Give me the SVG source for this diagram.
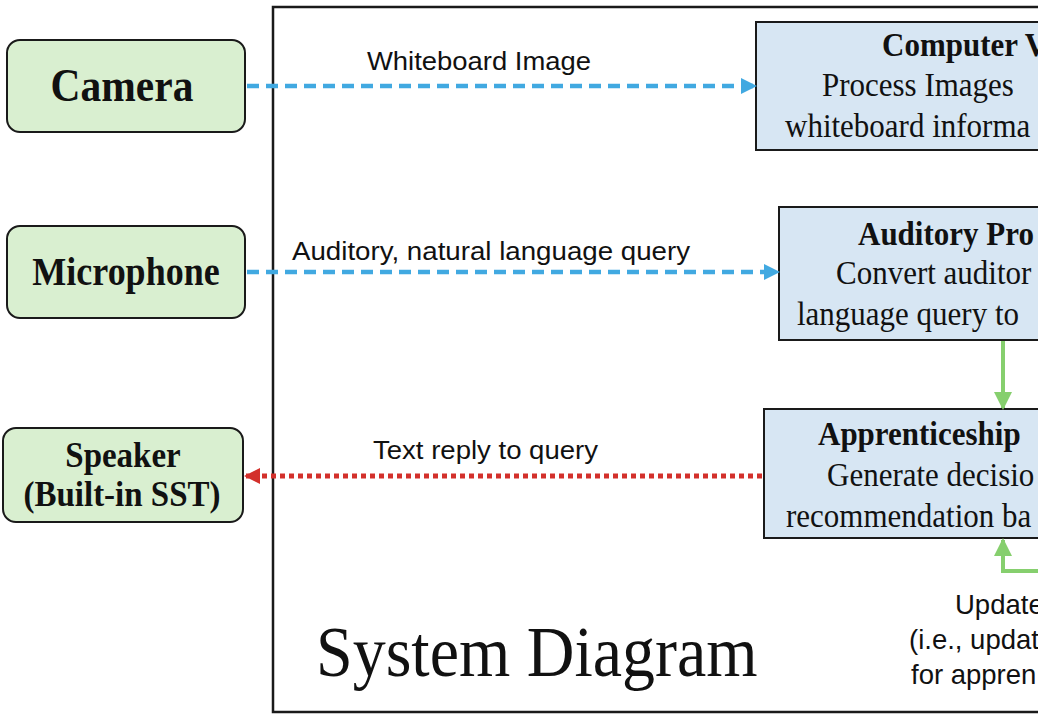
<svg xmlns="http://www.w3.org/2000/svg" width="1038" height="715" viewBox="0 0 1038 715">
<style>
.in{fill:#d9efd0;stroke:#1a1a1a;stroke-width:2}
.pr{fill:#d7e6f3;stroke:#1a1a1a;stroke-width:2}
.sb{font-family:"Liberation Serif",serif;font-weight:bold;fill:#111}
.sr{font-family:"Liberation Serif",serif;fill:#111}
.lb{font-family:"Liberation Sans",sans-serif;font-size:25px;fill:#111}
.lb2{font-family:"Liberation Sans",sans-serif;font-size:27.5px;fill:#111}
.blue{stroke:#41a9e1;stroke-width:4.5;stroke-dasharray:12 7;fill:none}
.red{stroke:#d3302b;stroke-width:5;stroke-dasharray:5 4;fill:none}
.green{stroke:#86cf6e;stroke-width:4;fill:none}
</style>
<defs>
<marker id="ab" markerWidth="16" markerHeight="16" refX="14" refY="8" orient="auto" markerUnits="userSpaceOnUse"><path d="M0,0 L16,8 L0,16 Z" fill="#41a9e1"/></marker>
<marker id="ar" markerWidth="16" markerHeight="16" refX="14" refY="8" orient="auto" markerUnits="userSpaceOnUse"><path d="M0,0 L16,8 L0,16 Z" fill="#d3302b"/></marker>
<marker id="ag" markerWidth="18" markerHeight="18" refX="16" refY="9" orient="auto" markerUnits="userSpaceOnUse"><path d="M0,0 L18,9 L0,18 Z" fill="#86cf6e"/></marker>
</defs>
<rect width="1038" height="715" fill="#fff"/>
<rect id="frame" x="273" y="7" width="800" height="705" fill="none" stroke="#1a1a1a" stroke-width="2.5"/>
<text class="sr" font-size="66" transform="translate(316,676) scale(1,1.1)">System Diagram</text>

<g id="camera"><rect class="in" x="7" y="40" width="238" height="92" rx="13"/><text class="sb" font-size="41.5" text-anchor="middle" transform="translate(122,101) scale(1,1.1)">Camera</text></g>
<g id="microphone"><rect class="in" x="7" y="226" width="238" height="92" rx="13"/><text class="sb" font-size="36" text-anchor="middle" transform="translate(126,285) scale(1,1.1)">Microphone</text></g>
<g id="speaker"><rect class="in" x="3" y="428" width="240" height="94" rx="13"/><text class="sb" font-size="33" text-anchor="middle" transform="translate(123,467) scale(1,1.1)">Speaker</text><text class="sb" font-size="33" text-anchor="middle" transform="translate(122,506) scale(1,1.1)">(Built-in SST)</text></g>

<g id="vision"><rect class="pr" x="756" y="22" width="320" height="128"/><text class="sb" font-size="31" transform="translate(882,56) scale(1,1.1)">Computer V</text><text class="sr" font-size="31" transform="translate(822,96) scale(1,1.1)">Process Images</text><text class="sr" font-size="31" transform="translate(785,137) scale(1,1.1)">whiteboard informa</text></g>
<g id="auditory"><rect class="pr" x="779" y="207" width="300" height="133"/><text class="sb" font-size="31" transform="translate(858,245) scale(1,1.1)">Auditory Pro</text><text class="sr" font-size="31" transform="translate(836,284) scale(1,1.1)">Convert auditor</text><text class="sr" font-size="31" transform="translate(797,325) scale(1,1.1)">language query to</text></g>
<g id="apprenticeship"><rect class="pr" x="764" y="409" width="310" height="129"/><text class="sb" font-size="31" transform="translate(818,445) scale(1,1.1)">Apprenticeship</text><text class="sr" font-size="31" transform="translate(827,486) scale(1,1.1)">Generate decisio</text><text class="sr" font-size="31" transform="translate(786,527) scale(1,1.1)">recommendation ba</text></g>

<g id="connectors">
<line class="blue" x1="247" y1="86" x2="755" y2="86" marker-end="url(#ab)"/>
<line class="blue" x1="247" y1="272" x2="778" y2="272" marker-end="url(#ab)"/>
<line class="red" x1="762" y1="476" x2="246" y2="476" marker-end="url(#ar)"/>
<line class="green" x1="1003" y1="341" x2="1003" y2="408" marker-end="url(#ag)"/>
<polyline class="green" points="1040,571 1003,571 1003,540" marker-end="url(#ag)"/>
<text class="lb" x="367" y="70" textLength="224" lengthAdjust="spacingAndGlyphs">Whiteboard Image</text>
<text class="lb" x="292" y="260" textLength="398" lengthAdjust="spacingAndGlyphs">Auditory, natural language query</text>
<text class="lb" x="373" y="459" textLength="225" lengthAdjust="spacingAndGlyphs">Text reply to query</text>
<text class="lb2" x="955" y="614">Update</text>
<text class="lb2" x="909" y="649">(i.e., updat</text>
<text class="lb2" x="911" y="684">for appren</text>
</g>
</svg>
